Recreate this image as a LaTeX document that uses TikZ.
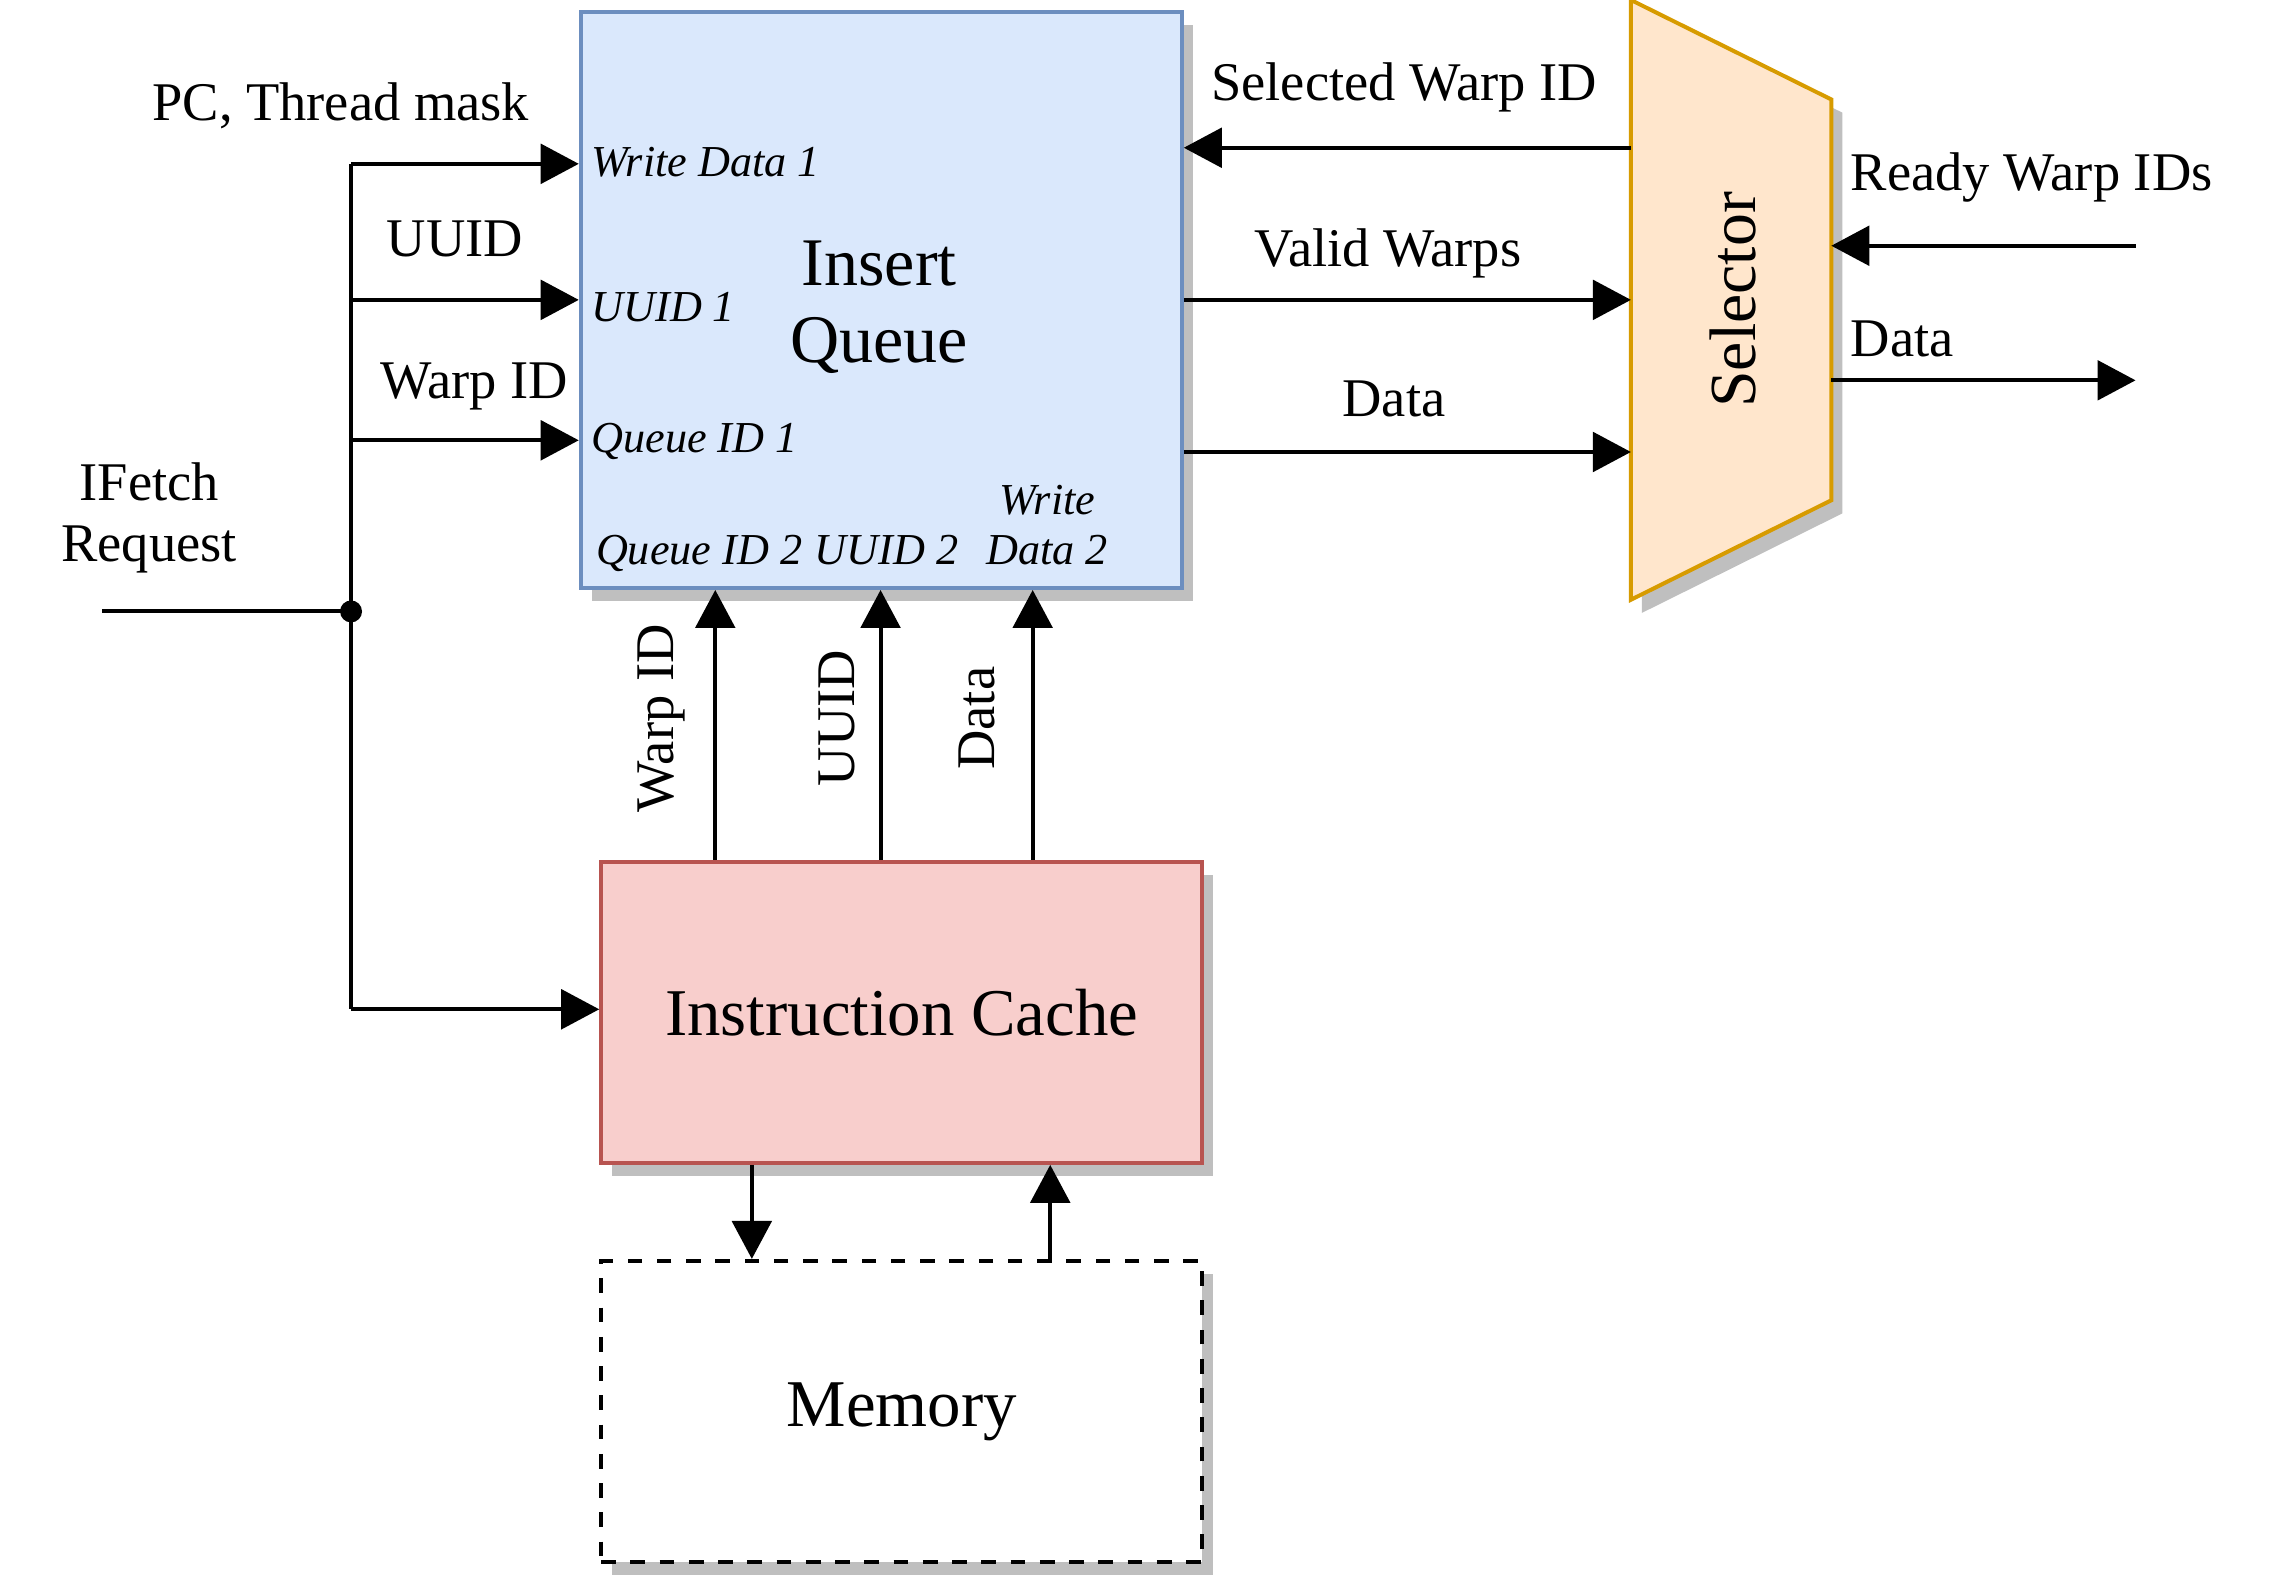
\documentclass[tikz,border=0pt]{standalone}
\usepackage{fontspec}
\setmainfont{Liberation Serif}
\usepackage{xcolor}
\usetikzlibrary{positioning,arrows.meta,shadows,calc}

\definecolor{iqfill}{HTML}{DAE8FC}
\definecolor{iqline}{HTML}{6C8EBF}
\definecolor{icfill}{HTML}{F8CECC}
\definecolor{icline}{HTML}{B85450}
\definecolor{selfill}{HTML}{FFE6CC}
\definecolor{selline}{HTML}{D79B00}

\tikzset{
  ombre/.style={drop shadow={shadow xshift=0.15cm, shadow yshift=-0.18cm, fill=black!25, opacity=1}},
  bloc/.style={draw, line width=1.55pt, inner sep=0pt, minimum width=8.22cm, align=center,
    font=\fontsize{26}{30}\selectfont, ombre},
  fil/.style={line width=1.55pt},
  fleche/.style={fil, -{Triangle[length=0.52cm,width=0.54cm]}},
  etiq/.style={inner sep=0pt, align=center, font=\fontsize{21.2}{24}\selectfont},
  port/.style={inner sep=0pt, align=center, font=\itshape\fontsize{17.2}{19.5}\selectfont}
}

\begin{document}
\begin{tikzpicture}[x=0.02cm, y=-0.02cm]
      \useasboundingbox (0,0) rectangle (1569,1083);

      % Blocs
      \node[bloc, draw=iqline, fill=iqfill, minimum height=7.88cm] (iq) at (602.5,205) {};
      \node[inner sep=0pt, align=center, font=\fontsize{26.5}{30}\selectfont] (iqt) at (601,210) {Insert\\Queue};
      \node[bloc, draw=icline, fill=icfill, minimum height=4.12cm] (ic) at (616.5,692) {Instruction Cache};
      \node[bloc, dash pattern=on 0.2cm off 0.2cm, fill=white, minimum height=4.12cm] (mem) at (616.5,965) {Memory};

      % Selecteur
      \coordinate (s1) at (1115,0);
      \coordinate (s2) at (1252,68);
      \coordinate (s3) at (1252,342);
      \coordinate (s4) at (1115,410);
      \filldraw[line width=1.55pt, draw=selline, fill=selfill, ombre] (s1) -- (s2) -- (s3) -- (s4) -- cycle;
      \node[rotate=90, inner sep=0pt, font=\fontsize{25.6}{30}\selectfont] (sel) at (1185,205) {Selector};

      % Ports
      \node[port, anchor=west] (wd1) at (404,111) {Write Data 1};
      \node[port, anchor=west] (uu1) at (404,210) {UUID 1};
      \node[port, anchor=west] (qi1) at (404,302) {Queue ID 1};
      \node[port, anchor=base] (qi2) at (478,386) {Queue ID 2};
      \node[port, anchor=base] (uu2) at (606,386) {UUID 2};
      \node[port, anchor=base] (wd2) at (716,386) {Data 2};
      \node[port, anchor=base] (wr2) at (716,352) {Write};

      % Bus
      \coordinate (busH) at (240,112);
      \coordinate (busU) at (240,205);
      \coordinate (busW) at (240,301);
      \coordinate (pt) at (240,418);
      \coordinate (busB) at (240,690);
      \coordinate (req) at (70,418);
      \draw[fil] (busH) -- (busB);
      \draw[fil] (req) -- (pt);
      \fill (pt) circle (7.5);
      \draw[fleche] (busH) -- (busH -| iq.west);
      \draw[fleche] (busU) -- (busU -| iq.west);
      \draw[fleche] (busW) -- (busW -| iq.west);
      \draw[fleche] (busB) -- (busB -| ic.west);

      \node[etiq] (pcm) at (233,72) {PC, Thread mask};
      \node[etiq] (luu) at (311,163) {UUID};
      \node[etiq] (lwi) at (324,264) {Warp ID};
      \node[etiq] (ifr) at (102,354) {IFetch\\Request};

      % Cache vers file
      \foreach \x/\lx/\t in {489/452/Warp ID, 602/572/UUID, 706/668/Data}{
        \coordinate (c\x) at (\x,0);
        \draw[fleche] (ic.north -| c\x) -- (iq.south -| c\x);
        \node[etiq, rotate=90] at (\lx,491) {\t};
      }

      % Memoire
      \coordinate (md) at (514,0);
      \coordinate (mu) at (718,0);
      \draw[fleche] (ic.south -| md) -- (mem.north -| md);
      \draw[fleche] (mem.north -| mu) -- (ic.south -| mu);

      % Selecteur : entrees et sorties
      \coordinate (sw) at (1115,101);
      \coordinate (vw) at (1115,205);
      \coordinate (dw) at (1115,309);
      \coordinate (rw) at (1460,168);
      \coordinate (ow) at (1460,260);
      \draw[fleche] (sw) -- (sw -| iq.east);
      \draw[fleche] (vw -| iq.east) -- (vw);
      \draw[fleche] (dw -| iq.east) -- (dw);
      \draw[fleche] (rw) -- (rw -| s2);
      \draw[fleche] (ow -| s2) -- (ow);

      \node[etiq] (lsw) at (960,60) {Selected Warp ID};
      \node[etiq] (lvw) at (949,173) {Valid Warps};
      \node[etiq] (ldw) at (953,273) {Data};
      \node[etiq, anchor=west] (lrw) at (1265,121) {Ready Warp IDs};
      \node[etiq, anchor=west] (low) at (1265,232) {Data};
    \end{tikzpicture}
\end{document}
